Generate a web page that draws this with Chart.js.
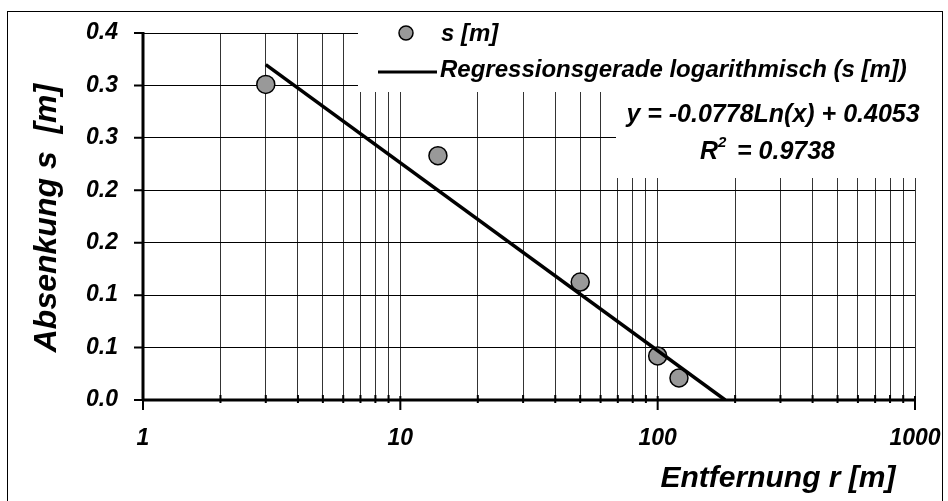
<!DOCTYPE html>
<html>
<head>
<meta charset="utf-8">
<script src="https://cdn.jsdelivr.net/npm/chart.js@4/dist/chart.umd.min.js"></script>
<style>
  html, body { margin: 0; padding: 0; background: #fff; }
  #wrap { width: 948px; height: 501px; position: relative; }
</style>
</head>
<body>
<div id="wrap"><canvas id="c" width="948" height="501"></canvas></div>
<script>
// measured drawdown s over distance r
const distR = [3, 14, 50, 100, 121];
const drawdownS = [0.301, 0.233, 0.1125, 0.042, 0.021];
// log regression y = -0.0778 ln(x) + 0.4053, read as start/end points
const trendR = [3, 183];
const trendS = [0.3198, 0.0];
const yTicks = [0, 0.05, 0.1, 0.15, 0.2, 0.25, 0.3, 0.35];
const xMajor = [1, 10, 100, 1000];
const legendLabels = ['s [m]', 'Regressionsgerade logarithmisch (s [m])'];
const eqText = 'y = -0.0778Ln(x) + 0.4053';
const r2Text = '= 0.9738';

const FONT = 'Liberation Sans, Arial, sans-serif';

const frame = {
  id: 'frame',
  beforeDraw(chart) {
    const c = chart.ctx;
    c.save();
    c.fillStyle = '#fff';
    c.fillRect(0, 0, chart.width, chart.height);
    c.strokeStyle = '#000'; c.lineWidth = 1;
    c.strokeRect(7.5, 11.5, 935, 500);
    c.restore();
  },
  beforeDatasetsDraw(chart) {
    // white boxes of legend and equation cover the grid
    const c = chart.ctx;
    c.save();
    c.fillStyle = '#fff';
    c.fillRect(358, 20, 560, 72);
    c.fillRect(616, 92, 302, 86);
    // axis lines and ticks
    const xs = chart.scales.x, ys = chart.scales.y;
    const a = chart.chartArea;
    c.strokeStyle = '#000';
    c.lineWidth = 3;
    c.beginPath();
    c.moveTo(a.left, a.top - 1); c.lineTo(a.left, a.bottom + 1);
    c.moveTo(a.left - 1, a.bottom); c.lineTo(a.right + 1, a.bottom);
    c.stroke();
    c.lineWidth = 2;
    c.beginPath();
    yTicks.forEach(v => {
      const y = ys.getPixelForValue(v);
      c.moveTo(a.left - 9, y); c.lineTo(a.left, y);
    });
    xs.ticks.forEach(t => {
      const x = xs.getPixelForValue(t.value);
      if (xMajor.includes(t.value)) { c.moveTo(x, a.bottom - 4); c.lineTo(x, a.bottom + 10); }
      else { c.moveTo(x, a.bottom - 5); c.lineTo(x, a.bottom + 3); }
    });
    c.stroke();
    c.restore();
  },
  afterDraw(chart) {
    const c = chart.ctx;
    c.save();
    // legend
    c.beginPath();
    c.arc(406, 33, 7, 0, Math.PI * 2);
    c.fillStyle = '#999'; c.fill();
    c.lineWidth = 1.5; c.strokeStyle = '#000'; c.stroke();
    c.lineWidth = 3;
    c.beginPath(); c.moveTo(378, 72); c.lineTo(437, 72); c.stroke();
    c.fillStyle = '#000';
    c.font = 'italic bold 24px ' + FONT;
    c.textBaseline = 'middle'; c.textAlign = 'left';
    c.fillText(legendLabels[0], 441, 34);
    c.fillText(legendLabels[1], 440, 70);
    // equation
    c.font = 'italic bold 25px ' + FONT;
    c.textAlign = 'center';
    c.fillText(eqText, 773, 115);
    c.textAlign = 'left';
    c.fillText('R', 700, 152);
    c.font = 'italic bold 15px ' + FONT;
    c.fillText('2', 718, 143);
    c.font = 'italic bold 25px ' + FONT;
    c.fillText(r2Text, 737, 152);
    // axis titles
    c.font = 'italic bold 30px ' + FONT;
    c.textAlign = 'center';
    c.fillText('Entfernung r [m]', 778, 479);
    c.font = 'italic bold 32px ' + FONT;
    c.translate(47, 218);
    c.rotate(-Math.PI / 2);
    c.fillText('Absenkung s  [m]', 0, 0);
    c.restore();
  }
};

new Chart(document.getElementById('c'), {
  type: 'scatter',
  data: {
    datasets: [
      {
        label: legendLabels[0],
        data: distR.map((r, i) => ({ x: r, y: drawdownS[i] })),
        pointRadius: 9, pointHoverRadius: 9,
        backgroundColor: '#999', borderColor: '#000', borderWidth: 1.5,
        order: 1
      },
      {
        label: legendLabels[1],
        type: 'line',
        data: trendR.map((r, i) => ({ x: r, y: trendS[i] })),
        borderColor: '#000', borderWidth: 3.5, pointRadius: 0,
        fill: false, order: 0
      }
    ]
  },
  options: {
    responsive: false, animation: false,
    layout: { padding: { left: 0, right: 33, top: 33, bottom: 0 } },
    plugins: { legend: { display: false }, tooltip: { enabled: false } },
    scales: {
      x: {
        type: 'logarithmic', min: 1, max: 1000,
        afterFit(s) { s.height = 101; s.paddingLeft = 0; s.paddingRight = 0; },
        afterBuildTicks(s) {
          const t = [];
          [1, 10, 100].forEach(d => { for (let k = 1; k < 10; k++) t.push({ value: d * k }); });
          t.push({ value: 1000 });
          s.ticks = t;
        },
        border: { display: false },
        grid: { color: '#000', lineWidth: 0.8, drawTicks: false },
        ticks: {
          autoSkip: false, maxRotation: 0, padding: 25, color: '#000',
          font: { family: FONT, size: 23, style: 'italic', weight: 'bold' },
          callback: v => xMajor.includes(v) ? String(v) : ''
        }
      },
      y: {
        min: 0, max: 0.35,
        afterFit(s) { s.width = 143; s.paddingTop = 0; s.paddingBottom = 0; },
        afterBuildTicks(s) { s.ticks = yTicks.map(v => ({ value: v })); },
        border: { display: false },
        grid: { color: '#000', lineWidth: 1, drawTicks: false },
        ticks: {
          padding: 25, color: '#000',
          font: { family: FONT, size: 23, style: 'italic', weight: 'bold' },
          callback: v => (Math.round(v * 10 + 1e-9) / 10).toFixed(1)
        }
      }
    }
  },
  plugins: [frame]
});
</script>
</body>
</html>
